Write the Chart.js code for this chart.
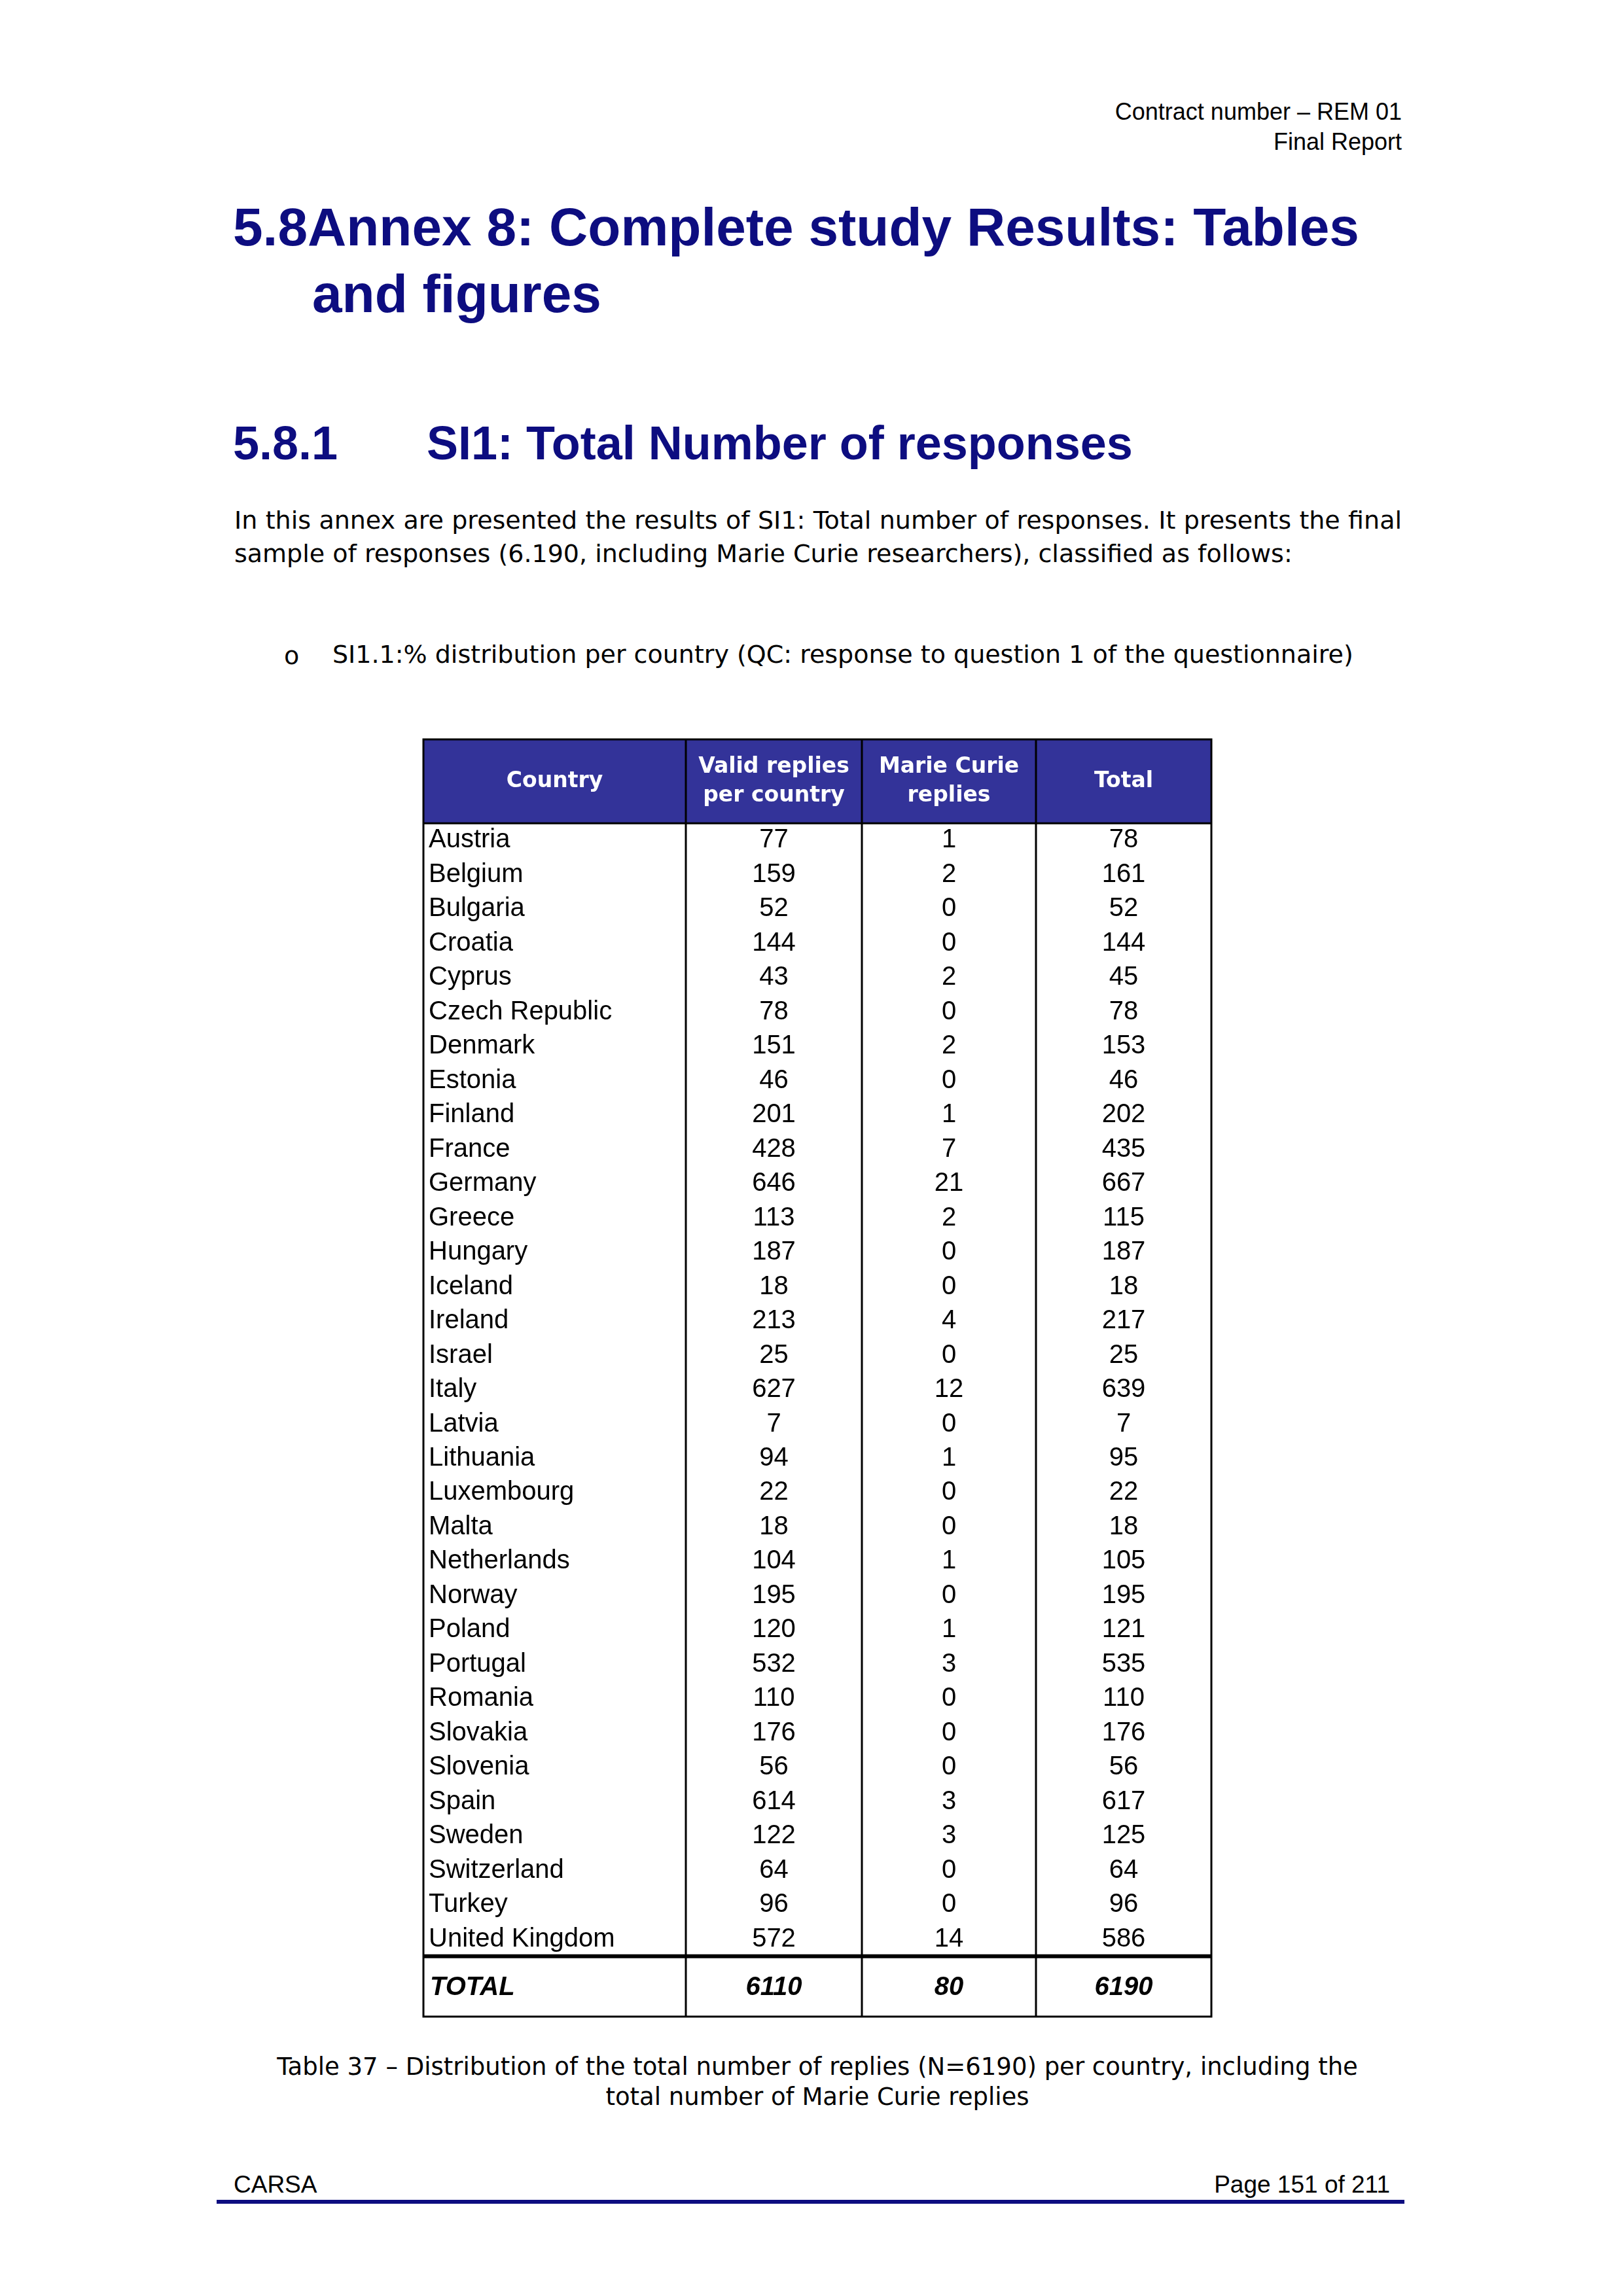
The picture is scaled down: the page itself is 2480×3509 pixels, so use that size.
<!DOCTYPE html>
<html><head><meta charset="utf-8">
<script src="https://cdn.jsdelivr.net/npm/chart.js@4/dist/chart.umd.min.js"></script>
<style>
body{margin:0;width:2480px;height:3509px;background:#fff;position:relative;font-family:"DejaVu Sans",Verdana,sans-serif;}
.a{position:absolute;white-space:nowrap}
.navy{color:#0d0d80;font-family:"Liberation Sans",Arial,sans-serif;font-weight:bold}
p.a{white-space:normal}
</style></head><body>
<div class="a" style="right:338px;top:148px;text-align:right;font:36px 'Liberation Sans Narrow','Liberation Sans',sans-serif;line-height:46px">Contract number – REM 01<br>Final Report</div>
<div class="a navy" style="left:356px;top:300px;font-size:82px">5.8Annex 8: Complete study Results: Tables</div>
<div class="a navy" style="left:477px;top:402px;font-size:82px">and figures</div>
<div class="a navy" style="left:356px;top:636px;font-size:72px">5.8.1</div>
<div class="a navy" style="left:652px;top:636px;font-size:72px">SI1: Total Number of responses</div>
<p class="a" style="left:358px;top:770px;width:1784px;margin:0;font-size:38px;line-height:51px;text-align:justify;text-align-last:left">In this annex are presented the results of SI1: Total number of responses. It presents the final sample of responses (6.190, including Marie Curie researchers), classified as follows:</p>
<div class="a" style="left:434px;top:980px;font-size:38px">o</div>
<p class="a" style="left:508px;top:975px;width:1634px;margin:0;font-size:38px;line-height:51px;text-align:justify;text-align-last:left">SI1.1:% distribution per country (QC: response to question 1 of the questionnaire)</p>
<canvas id="t" width="1210" height="1960" style="position:absolute;left:644px;top:1127px"></canvas>
<div class="a" style="left:0;width:2498px;top:3136px;text-align:center;font-size:37px;line-height:46px">Table 37 – Distribution of the total number of replies (N=6190) per country, including the<br>total number of Marie Curie replies</div>
<div class="a" style="left:357px;top:3318px;font:37px 'Liberation Sans',Arial,sans-serif">CARSA</div>
<div class="a" style="right:356px;top:3318px;font:37px 'Liberation Sans',Arial,sans-serif">Page 151 of 211</div>
<div class="a" style="left:331px;top:3362px;width:1815px;height:6px;background:#0d0d80"></div>
<script>
const columns = ['Country', 'Valid replies\nper country', 'Marie Curie\nreplies', 'Total'];
const countries = ['Austria','Belgium','Bulgaria','Croatia','Cyprus','Czech Republic','Denmark','Estonia','Finland','France','Germany','Greece','Hungary','Iceland','Ireland','Israel','Italy','Latvia','Lithuania','Luxembourg','Malta','Netherlands','Norway','Poland','Portugal','Romania','Slovakia','Slovenia','Spain','Sweden','Switzerland','Turkey','United Kingdom'];
const validReplies = [77,159,52,144,43,78,151,46,201,428,646,113,187,18,213,25,627,7,94,22,18,104,195,120,532,110,176,56,614,122,64,96,572];
const marieCurie = [1,2,0,0,2,0,2,0,1,7,21,2,0,0,4,0,12,0,1,0,0,1,0,1,3,0,0,0,3,3,0,0,14];
const totals = [78,161,52,144,45,78,153,46,202,435,667,115,187,18,217,25,639,7,95,22,18,105,195,121,535,110,176,56,617,125,64,96,586];
const grandTotal = ['TOTAL', 6110, 80, 6190];

// layout (in scale units = px of table)
const colEdges = [0, 401, 670, 936, 1204];
const headH = 128, rowH = 52.4, totH = 92;

const tablePlugin = {
  id: 'table',
  afterDraw(chart) {
    const c = chart.ctx, X = chart.scales.x, Y = chart.scales.y;
    const px = v => X.getPixelForValue(v), py = v => Y.getPixelForValue(v);
    const bodyTop = headH, totTop = headH + rowH * countries.length, end = totTop + totH;
    c.save();
    c.fillStyle = '#333399';
    c.fillRect(px(0), py(0), px(1204) - px(0), py(headH) - py(0));
    c.fillStyle = '#fff';
    c.font = 'bold 33px "DejaVu Sans", Verdana, sans-serif';
    c.textAlign = 'center'; c.textBaseline = 'middle';
    columns.forEach((t, i) => {
      const lines = t.split('\n'), cx = (px(colEdges[i]) + px(colEdges[i + 1])) / 2;
      lines.forEach((l, k) => c.fillText(l, cx, py(headH / 2) + (k - (lines.length - 1) / 2) * 44));
    });
    c.fillStyle = '#000';
    c.font = '40px "Liberation Sans", Arial, sans-serif';
    countries.forEach((name, r) => {
      const cy = py(bodyTop + rowH * (r + 0.5));
      c.textAlign = 'left'; c.fillText(name, px(8), cy);
      c.textAlign = 'center';
      [validReplies[r], marieCurie[r], totals[r]].forEach((v, i) =>
        c.fillText(String(v), (px(colEdges[i + 1]) + px(colEdges[i + 2])) / 2, cy));
    });
    c.font = 'italic bold 40px "Liberation Sans", Arial, sans-serif';
    const ty = py(totTop + totH / 2 + 2);
    c.textAlign = 'left'; c.fillText(grandTotal[0], px(10), ty);
    c.textAlign = 'center';
    for (let i = 1; i < 4; i++) c.fillText(String(grandTotal[i]), (px(colEdges[i]) + px(colEdges[i + 1])) / 2, ty);
    c.strokeStyle = '#000';
    c.lineWidth = 3;
    c.strokeRect(px(0), py(0), px(1204) - px(0), py(end) - py(0));
    colEdges.slice(1, 4).forEach(e => { c.beginPath(); c.moveTo(px(e), py(0)); c.lineTo(px(e), py(end)); c.stroke(); });
    c.beginPath(); c.moveTo(px(0), py(bodyTop)); c.lineTo(px(1204), py(bodyTop)); c.stroke();
    c.lineWidth = 6;
    c.beginPath(); c.moveTo(px(0), py(totTop)); c.lineTo(px(1204), py(totTop)); c.stroke();
    c.restore();
  }
};

new Chart(document.getElementById('t'), {
  type: 'scatter',
  data: { datasets: [] },
  plugins: [tablePlugin],
  options: {
    responsive: false, animation: false, devicePixelRatio: 1,
    layout: { padding: { left: 3, top: 3, right: 3, bottom: 5 } },
    plugins: { legend: { display: false }, tooltip: { enabled: false } },
    scales: {
      x: { type: 'linear', min: 0, max: 1204, display: false },
      y: { type: 'linear', min: 0, max: headH + rowH * countries.length + totH, reverse: true, display: false }
    }
  }
});
</script>
</body></html>
